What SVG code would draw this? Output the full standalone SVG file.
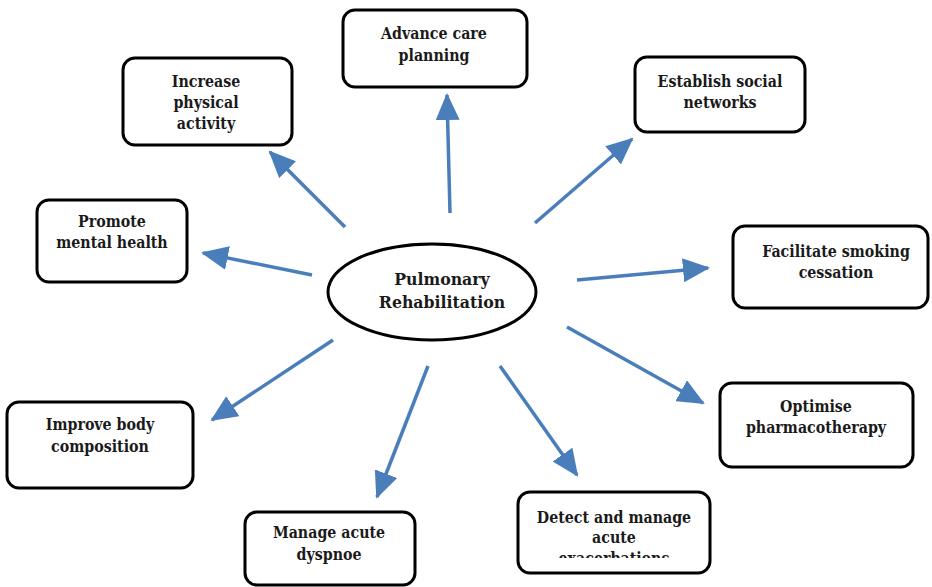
<svg xmlns="http://www.w3.org/2000/svg" width="932" height="587" viewBox="0 0 932 587">
<style>
.box{fill:#fff;stroke:#000;stroke-width:3}
.t{font-family:"DejaVu Serif Condensed","DejaVu Serif","Liberation Serif",serif;font-stretch:condensed;font-weight:bold;font-size:15.8px;fill:#1a1a1a;text-anchor:middle}
.big{font-size:17.5px}
.c{stroke:#4a7ebb;stroke-width:3.5;fill:none;marker-end:url(#ah)}
</style>
<defs>
<marker id="ah" markerUnits="userSpaceOnUse" markerWidth="27" markerHeight="24" refX="25" refY="12" orient="auto">
<path d="M0,0 L27,12 L0,24 z" fill="#4a7ebb"/>
</marker>
<clipPath id="clipD"><rect x="518" y="492" width="192" height="66"/></clipPath>
</defs>
<rect width="932" height="587" fill="#fff"/>
<g id="connectors">
<line class="c" x1="450" y1="213" x2="447" y2="95"/>
<line class="c" x1="345" y1="227" x2="270" y2="152"/>
<line class="c" x1="535" y1="223" x2="632" y2="139"/>
<line class="c" x1="312" y1="275" x2="203" y2="253"/>
<line class="c" x1="577" y1="280" x2="708" y2="268"/>
<line class="c" x1="333" y1="340" x2="212" y2="420"/>
<line class="c" x1="567" y1="327" x2="703" y2="403"/>
<line class="c" x1="428" y1="366" x2="377" y2="497"/>
<line class="c" x1="500" y1="366" x2="577" y2="475"/>
</g>
<g id="center">
<ellipse cx="432" cy="292" rx="104" ry="48" fill="#fff" stroke="#000" stroke-width="3"/>
<text class="t big" x="442" y="285">Pulmonary</text>
<text class="t big" x="442" y="308">Rehabilitation</text>
</g>
<g id="advance">
<rect class="box" x="343" y="10" width="184" height="77" rx="12"/>
<text class="t" x="434" y="39">Advance care</text>
<text class="t" x="434" y="61">planning</text>
</g>
<g id="physical">
<rect class="box" x="123" y="58" width="169" height="87" rx="12"/>
<text class="t" x="206" y="87">Increase</text>
<text class="t" x="206" y="108">physical</text>
<text class="t" x="206" y="129">activity</text>
</g>
<g id="social">
<rect class="box" x="635" y="57" width="170" height="75" rx="12"/>
<text class="t" x="720" y="87">Establish social</text>
<text class="t" x="720" y="108">networks</text>
</g>
<g id="mental">
<rect class="box" x="37" y="200" width="150" height="82" rx="12"/>
<text class="t" x="112" y="227">Promote</text>
<text class="t" x="112" y="248">mental health</text>
</g>
<g id="smoking">
<rect class="box" x="733" y="226" width="195" height="82" rx="12"/>
<text class="t" x="836" y="257">Facilitate smoking</text>
<text class="t" x="836" y="278">cessation</text>
</g>
<g id="body">
<rect class="box" x="7" y="402" width="186" height="86" rx="12"/>
<text class="t" x="100" y="430">Improve body</text>
<text class="t" x="100" y="452">composition</text>
</g>
<g id="pharma">
<rect class="box" x="720" y="383" width="193" height="84" rx="12"/>
<text class="t" x="816" y="412">Optimise</text>
<text class="t" x="816" y="433">pharmacotherapy</text>
</g>
<g id="dyspnoe">
<rect class="box" x="245" y="512" width="170" height="73" rx="12"/>
<text class="t" x="329" y="538">Manage acute</text>
<text class="t" x="329" y="560">dyspnoe</text>
</g>
<g id="exacerbations">
<rect class="box" x="518" y="492" width="192" height="81" rx="12"/>
<g clip-path="url(#clipD)">
<text class="t" x="614" y="523">Detect and manage</text>
<text class="t" x="614" y="543">acute</text>
<text class="t" x="614" y="564">exacerbations</text>
</g>
</g>
</svg>
